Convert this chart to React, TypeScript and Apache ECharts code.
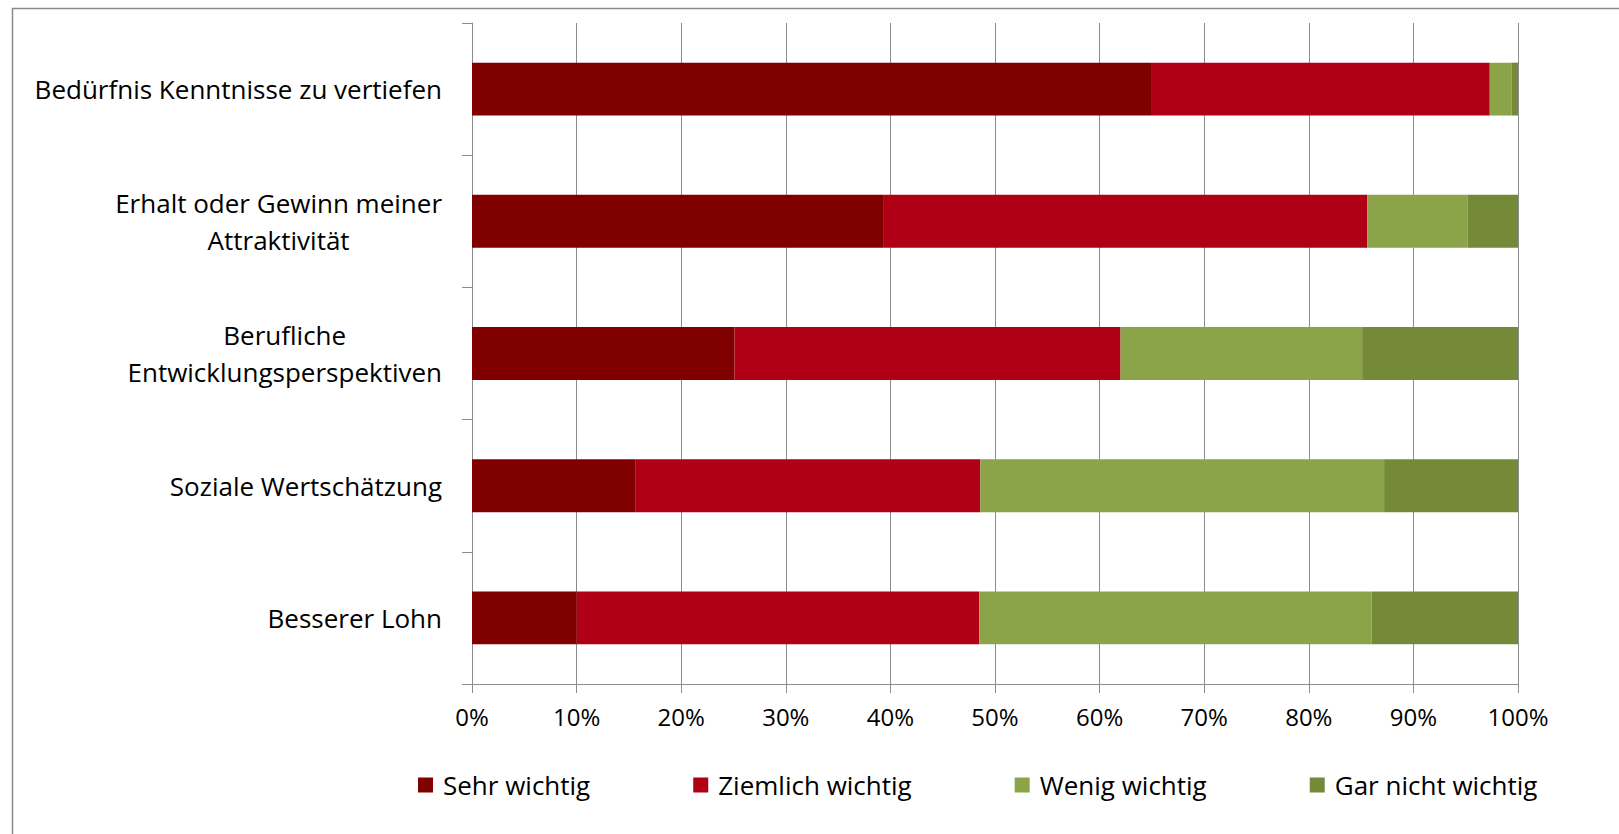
import React, { useEffect, useRef } from "react";
import * as echarts from "echarts";

// Survey: how important are these motives (share of respondents, %)
const categories = [
  "Bedürfnis Kenntnisse zu vertiefen",
  "Erhalt oder Gewinn meiner\nAttraktivität",
  "Berufliche\nEntwicklungsperspektiven",
  "Soziale Wertschätzung",
  "Besserer Lohn",
];

const seriesNames = ["Sehr wichtig", "Ziemlich wichtig", "Wenig wichtig", "Gar nicht wichtig"];

const sehrWichtig = [65.0, 39.3, 25.1, 15.6, 10.0];
const ziemlichWichtig = [32.3, 46.3, 36.9, 33.0, 38.5];
const wenigWichtig = [2.1, 9.6, 23.1, 38.6, 37.5];
const garNichtWichtig = [0.6, 4.8, 14.9, 12.8, 14.0];

const xTicks = [0, 10, 20, 30, 40, 50, 60, 70, 80, 90, 100];

const colors = ["#800000", "#B00015", "#8BA449", "#758A39"];

const FONT = "Open Sans";

export default function App() {
  const ref = useRef<HTMLDivElement>(null);

  useEffect(() => {
    document.body.style.margin = "0";
    if (!ref.current) return;
    const chart = echarts.init(ref.current, null, { renderer: "svg" });
    const values = [sehrWichtig, ziemlichWichtig, wenigWichtig, garNichtWichtig];

    chart.setOption({
      animation: false,
      backgroundColor: "#ffffff",
      textStyle: { fontFamily: FONT, color: "#000" },
      graphic: [
        {
          type: "rect",
          left: 10,
          top: 6,
          shape: { width: 1640, height: 860 },
          style: { fill: "none", stroke: "#8a8a8a", lineWidth: 1.5 },
          silent: true,
        },
      ],
      grid: { left: 472, right: 101, top: 23, bottom: 150, containLabel: false },
      xAxis: {
        type: "value",
        min: xTicks[0],
        max: xTicks[xTicks.length - 1],
        interval: xTicks[1] - xTicks[0],
        axisLine: { show: true, lineStyle: { color: "#8c8c8c", width: 1 } },
        axisTick: { show: true, length: 9, lineStyle: { color: "#8c8c8c" } },
        splitLine: { show: true, lineStyle: { color: "#8c8c8c", width: 1 } },
        axisLabel: {
          formatter: "{value}%",
          fontFamily: FONT,
          fontSize: 24,
          color: "#000",
          margin: 20,
        },
      },
      yAxis: {
        type: "category",
        inverse: true,
        data: categories,
        axisLine: { show: true, lineStyle: { color: "#8c8c8c", width: 1 } },
        axisTick: { show: true, length: 10, alignWithLabel: false, lineStyle: { color: "#8c8c8c" } },
        splitLine: { show: false },
        axisLabel: {
          margin: 30,
          formatter: (v: string) =>
            v
              .split("\n")
              .map((s) => `{c|${s}}`)
              .join("\n"),
          rich: {
            c: {
              align: "center",
              fontFamily: FONT,
              fontSize: 26,
              lineHeight: 37,
              color: "#000",
            },
          },
        },
      },
      legend: {
        data: seriesNames,
        left: 413,
        top: 767,
        icon: "rect",
        itemWidth: 15,
        itemHeight: 15,
        itemGap: 103,
        textStyle: { fontFamily: FONT, fontSize: 26, color: "#000", padding: [0, 0, 0, 5] },
      },
      series: seriesNames.map((name, i) => ({
        name,
        type: "bar",
        stack: "total",
        barCategoryGap: "60%",
        data: values[i],
        itemStyle: { color: colors[i] },
      })),
    });

    return () => chart.dispose();
  }, []);

  return <div ref={ref} style={{ width: 1619, height: 834 }} />;
}
